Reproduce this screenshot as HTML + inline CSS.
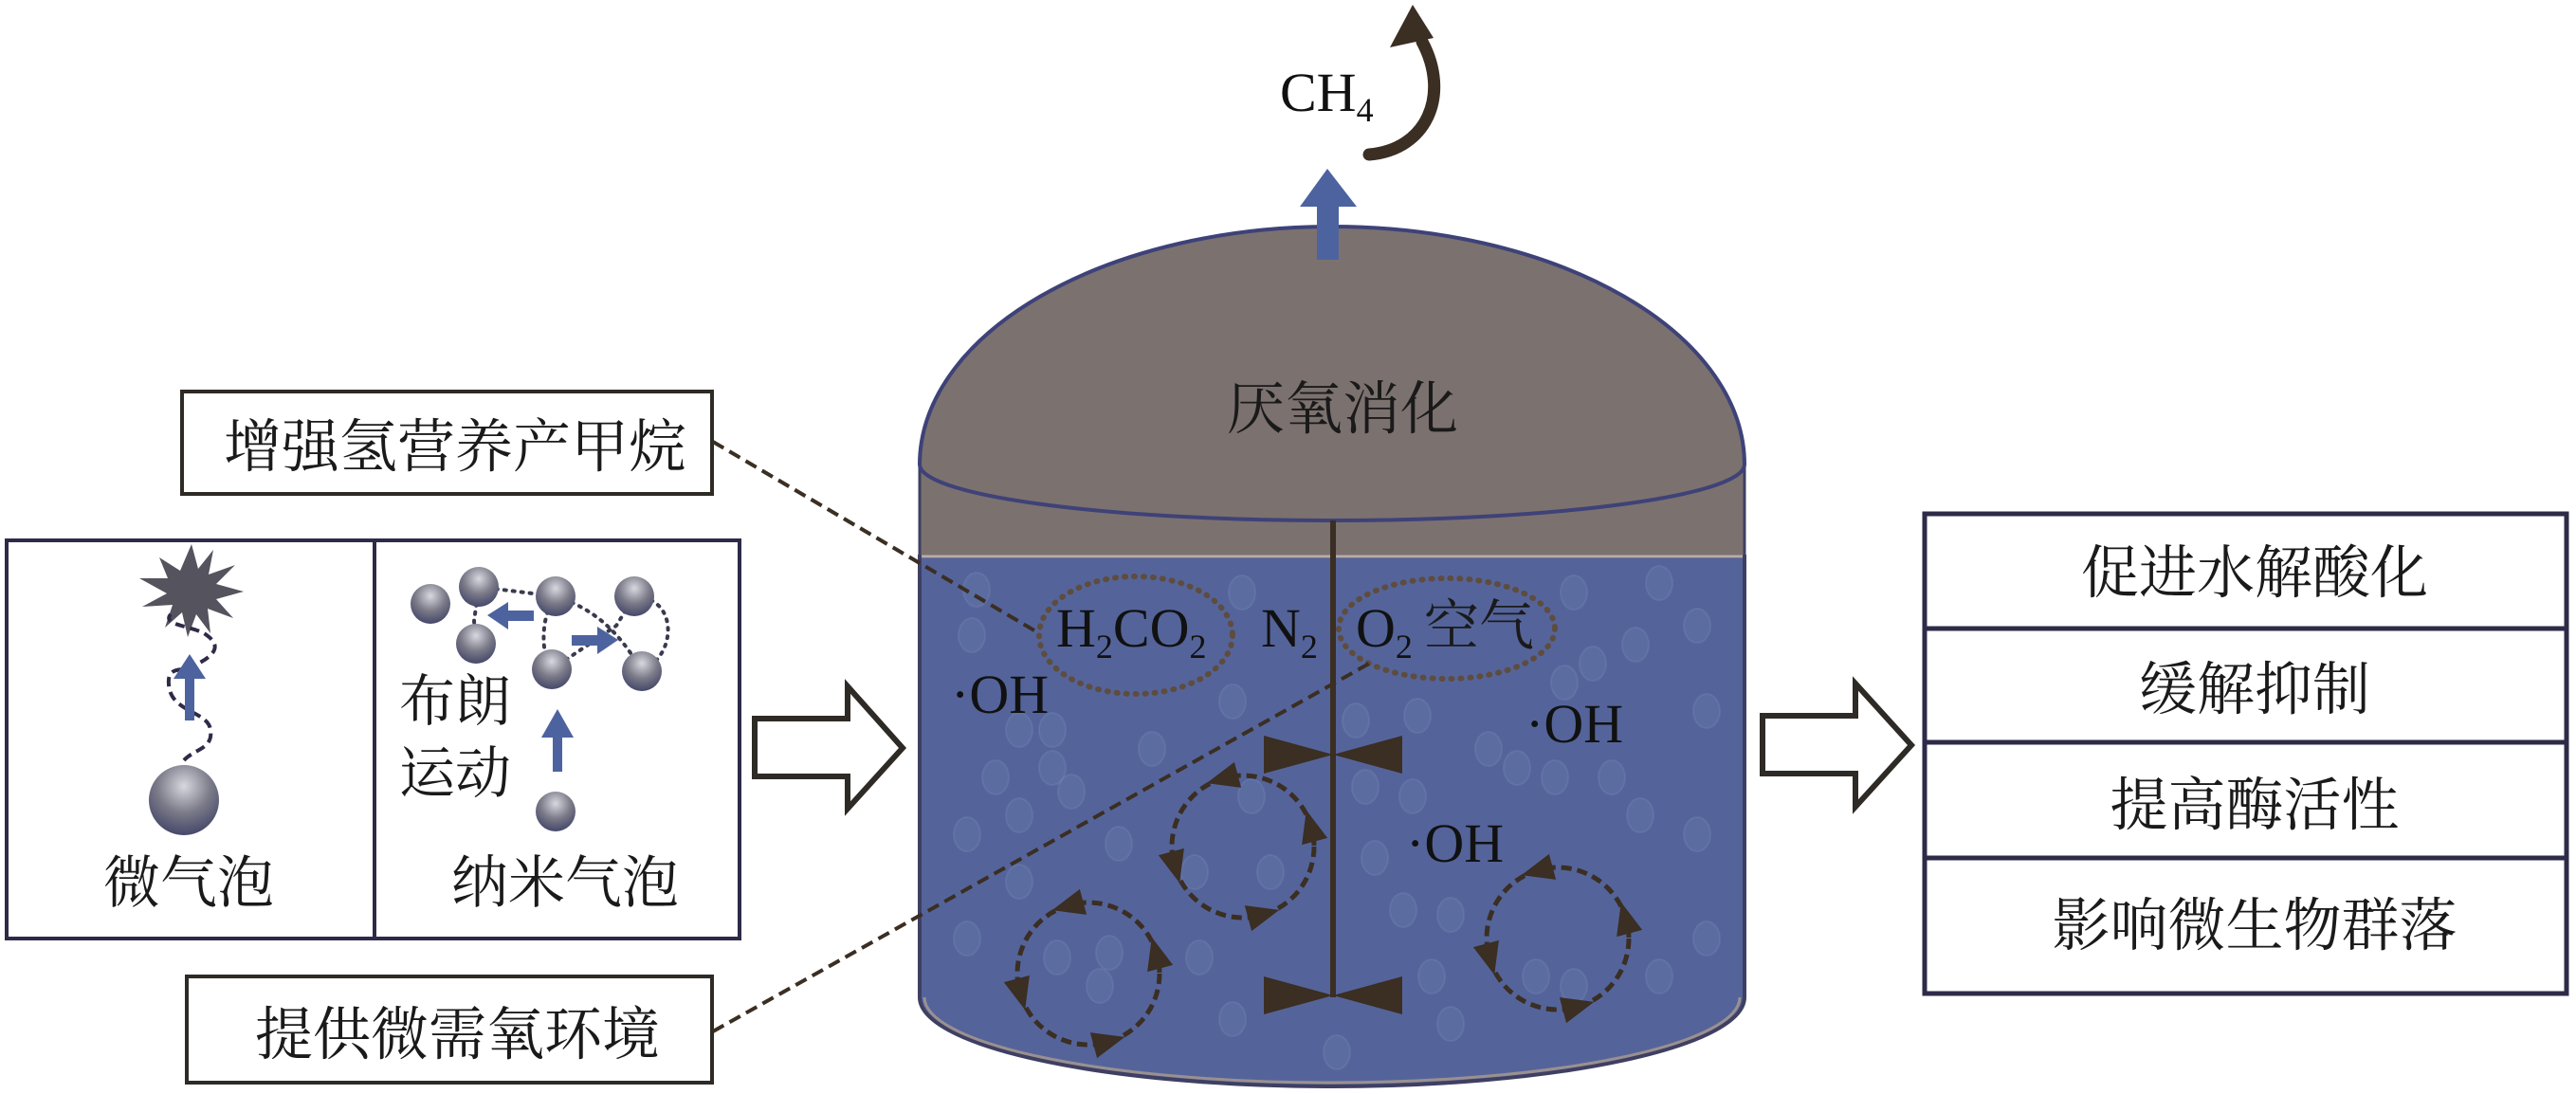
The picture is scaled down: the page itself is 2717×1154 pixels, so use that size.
<!DOCTYPE html>
<html><head><meta charset="utf-8">
<style>
html,body{margin:0;padding:0;background:#fff;}
svg{display:block;}
.cj{font-family:"Liberation Serif","Noto Serif CJK SC","Noto Sans CJK SC",serif;fill:#1a1a1a;}
.lt{font-family:"Liberation Serif",serif;fill:#111;}
</style></head>
<body>
<svg width="2717" height="1154" viewBox="0 0 2717 1154" xmlns="http://www.w3.org/2000/svg">
<defs>
<radialGradient id="bub" cx="0.5" cy="0.3" r="0.7">
<stop offset="0" stop-color="#d8d8e0"/>
<stop offset="0.55" stop-color="#7a7a88"/>
<stop offset="1" stop-color="#45486a"/>
</radialGradient>
<g id="loop">
<ellipse cx="0" cy="0" rx="75" ry="75" fill="none" stroke="#3b2e22" stroke-width="5" stroke-dasharray="11 6"/>
<polygon points="20,0 -14,-14 -14,14" fill="#3b2e22" transform="translate(-19,-72) rotate(165)"/>
<polygon points="20,0 -14,-14 -14,14" fill="#3b2e22" transform="translate(-72,19) rotate(75)"/>
<polygon points="20,0 -14,-14 -14,14" fill="#3b2e22" transform="translate(19,72) rotate(-15)"/>
<polygon points="20,0 -14,-14 -14,14" fill="#3b2e22" transform="translate(72,-19) rotate(-105)"/>
</g>
</defs>

<!-- Box 1 -->
<rect x="192" y="413" width="559" height="108" fill="#fff" stroke="#2e2a26" stroke-width="4"/>
<text class="cj" x="236" y="492" font-size="61">增强氢营养产甲烷</text>

<!-- Left panel -->
<rect x="7" y="570" width="773" height="420" fill="#fff" stroke="#2d2b48" stroke-width="4"/>
<line x1="395" y1="570" x2="395" y2="990" stroke="#2d2b48" stroke-width="4"/>
<polygon fill="#55535e" points="202,574 209,600 225,580 220,606 248,596 228,616 257,624 228,632 246,652 219,642 222,668 207,648 198,672 192,646 174,662 182,638 150,640 176,626 147,610 177,610 168,588 190,602"/>
<path d="M194,802 C205,790 225,790 222,770 C220,750 180,752 178,722 C176,700 195,710 205,702 C230,690 232,680 218,670 C205,660 170,660 180,648" fill="none" stroke="#2d2b48" stroke-width="4" stroke-dasharray="10 6"/>
<rect x="195" y="712" width="10" height="48" fill="#4d63a0"/>
<polygon points="200,690 183,716 217,716" fill="#4d63a0"/>
<circle cx="194" cy="844" r="37" fill="url(#bub)"/>
<text class="cj" x="109" y="952" font-size="60">微气泡</text>
<g fill="none" stroke="#3a3a4e" stroke-width="4" stroke-dasharray="2 7" stroke-linecap="round">
<path d="M505,619 L586,629"/>
<path d="M505,619 L500,655 L502,679"/>
<path d="M586,629 C570,650 570,690 582,706"/>
<path d="M586,629 C620,640 650,660 677,708"/>
<path d="M582,706 L650,660 L669,629"/>
<path d="M669,629 C715,630 715,690 677,708"/>
</g>
<circle cx="454" cy="637" r="21" fill="url(#bub)"/>
<circle cx="505" cy="619" r="21" fill="url(#bub)"/>
<circle cx="586" cy="629" r="21" fill="url(#bub)"/>
<circle cx="669" cy="629" r="21" fill="url(#bub)"/>
<circle cx="502" cy="679" r="21" fill="url(#bub)"/>
<circle cx="582" cy="706" r="21" fill="url(#bub)"/>
<circle cx="677" cy="708" r="21" fill="url(#bub)"/>
<circle cx="586" cy="856" r="21" fill="url(#bub)"/>
<polygon points="514,649 536,635 536,644 563,644 563,655 536,655 536,664" fill="#4d63a0"/>
<polygon points="652,675 630,661 630,670 603,670 603,681 630,681 630,690" fill="#4d63a0"/>
<rect x="583" y="775" width="10" height="39" fill="#4d63a0"/>
<polygon points="588,748 571,778 605,778" fill="#4d63a0"/>
<text class="cj" x="421" y="760" font-size="59">布朗</text>
<text class="cj" x="421" y="836" font-size="59">运动</text>
<text class="cj" x="476" y="952" font-size="60">纳米气泡</text>

<!-- Box 2 -->
<rect x="197" y="1030" width="554" height="112" fill="#fff" stroke="#2e2a26" stroke-width="4"/>
<text class="cj" x="269" y="1112" font-size="61">提供微需氧环境</text>

<polygon points="796,758 894,758 894,724 952,789 894,853 894,819 796,819" fill="#fff" stroke="#2e2a26" stroke-width="6"/>

<!-- Tank -->
<path d="M970,587 L1840,587 L1840,1052 A435,94 0 0 1 970,1052 Z" fill="#54649a" stroke="#3e3f62" stroke-width="4"/>
<path d="M975,1052 A430,90 0 0 0 1835,1052" fill="none" stroke="#9a9090" stroke-width="3"/>
<rect x="970" y="490" width="870" height="97" fill="#7b716f" stroke="#3e3f62" stroke-width="3"/>
<line x1="972" y1="587" x2="1838" y2="587" stroke="#b8aca8" stroke-width="3"/>
<g fill="#7a8bbd" fill-opacity="0.2" stroke="#8e9dca" stroke-opacity="0.2" stroke-width="2">
<ellipse cx="1030" cy="622" rx="14" ry="18"/><ellipse cx="1025" cy="670" rx="14" ry="18"/>
<ellipse cx="1075" cy="770" rx="14" ry="18"/><ellipse cx="1110" cy="770" rx="14" ry="18"/>
<ellipse cx="1050" cy="820" rx="14" ry="18"/><ellipse cx="1110" cy="810" rx="14" ry="18"/>
<ellipse cx="1130" cy="835" rx="14" ry="18"/><ellipse cx="1215" cy="790" rx="14" ry="18"/>
<ellipse cx="1075" cy="860" rx="14" ry="18"/><ellipse cx="1020" cy="880" rx="14" ry="18"/>
<ellipse cx="1180" cy="890" rx="14" ry="18"/><ellipse cx="1075" cy="930" rx="14" ry="18"/>
<ellipse cx="1260" cy="920" rx="14" ry="18"/><ellipse cx="1020" cy="990" rx="14" ry="18"/>
<ellipse cx="1115" cy="1010" rx="14" ry="18"/><ellipse cx="1170" cy="1005" rx="14" ry="18"/>
<ellipse cx="1160" cy="1040" rx="14" ry="18"/><ellipse cx="1265" cy="1010" rx="14" ry="18"/>
<ellipse cx="1300" cy="1075" rx="14" ry="18"/><ellipse cx="1410" cy="1110" rx="14" ry="18"/>
<ellipse cx="1320" cy="840" rx="14" ry="18"/><ellipse cx="1340" cy="920" rx="14" ry="18"/>
<ellipse cx="1310" cy="625" rx="14" ry="18"/><ellipse cx="1300" cy="740" rx="14" ry="18"/>
<ellipse cx="1430" cy="760" rx="14" ry="18"/><ellipse cx="1495" cy="755" rx="14" ry="18"/>
<ellipse cx="1440" cy="830" rx="14" ry="18"/><ellipse cx="1490" cy="840" rx="14" ry="18"/>
<ellipse cx="1450" cy="905" rx="14" ry="18"/><ellipse cx="1480" cy="960" rx="14" ry="18"/>
<ellipse cx="1530" cy="965" rx="14" ry="18"/><ellipse cx="1570" cy="790" rx="14" ry="18"/>
<ellipse cx="1600" cy="810" rx="14" ry="18"/><ellipse cx="1640" cy="820" rx="14" ry="18"/>
<ellipse cx="1700" cy="820" rx="14" ry="18"/><ellipse cx="1730" cy="860" rx="14" ry="18"/>
<ellipse cx="1650" cy="720" rx="14" ry="18"/><ellipse cx="1680" cy="700" rx="14" ry="18"/>
<ellipse cx="1725" cy="680" rx="14" ry="18"/><ellipse cx="1790" cy="660" rx="14" ry="18"/>
<ellipse cx="1750" cy="615" rx="14" ry="18"/><ellipse cx="1660" cy="625" rx="14" ry="18"/>
<ellipse cx="1800" cy="750" rx="14" ry="18"/><ellipse cx="1790" cy="880" rx="14" ry="18"/>
<ellipse cx="1800" cy="990" rx="14" ry="18"/><ellipse cx="1660" cy="1040" rx="14" ry="18"/>
<ellipse cx="1750" cy="1030" rx="14" ry="18"/><ellipse cx="1510" cy="1030" rx="14" ry="18"/>
<ellipse cx="1530" cy="1080" rx="14" ry="18"/><ellipse cx="1620" cy="1030" rx="14" ry="18"/>
</g>
<path d="M970,490 A435,251 0 0 1 1840,490 A435,59 0 0 1 970,490 Z" fill="#7b716f" stroke="#3e4278" stroke-width="4"/>
<text class="cj" x="1294" y="452" font-size="61">厌氧消化</text>
<rect x="1389" y="214" width="23" height="60" fill="#4d63a0"/>
<polygon points="1400,178 1371,218 1431,218" fill="#4d63a0"/>
<text class="lt" x="1350" y="117" font-size="58">CH<tspan font-size="36" dy="11">4</tspan></text>
<path d="M1444,163 C1505,158 1530,100 1500,44" fill="none" stroke="#3b2e22" stroke-width="13" stroke-linecap="round"/>
<polygon points="1490,5 1466,50 1512,40" fill="#3b2e22"/>

<line x1="1406" y1="549" x2="1406" y2="1052" stroke="#3b2e22" stroke-width="6"/>
<polygon points="1333,776 1333,816 1406,796" fill="#3b2e22"/>
<polygon points="1479,776 1479,816 1406,796" fill="#3b2e22"/>
<polygon points="1333,1030 1333,1070 1406,1050" fill="#3b2e22"/>
<polygon points="1479,1030 1479,1070 1406,1050" fill="#3b2e22"/>

<ellipse cx="1198" cy="670" rx="102" ry="62" fill="none" stroke="#5e4c3e" stroke-width="6" stroke-dasharray="1 9" stroke-linecap="round"/>
<ellipse cx="1526" cy="663" rx="114" ry="53" fill="none" stroke="#5e4c3e" stroke-width="6" stroke-dasharray="1 9" stroke-linecap="round"/>
<text class="lt" x="1114" y="682" font-size="58">H<tspan font-size="36" dy="12">2</tspan><tspan dy="-12">CO</tspan><tspan font-size="36" dy="12">2</tspan></text>
<text class="lt" x="1330" y="682" font-size="58">N<tspan font-size="36" dy="12">2</tspan></text>
<text class="lt" x="1430" y="682" font-size="58">O<tspan font-size="36" dy="12">2</tspan></text>
<text class="cj" x="1502" y="680" font-size="58">空气</text>
<text class="lt" x="1003" y="752" font-size="58">·OH</text>
<text class="lt" x="1609" y="783" font-size="58">·OH</text>
<text class="lt" x="1483" y="909" font-size="58">·OH</text>

<use href="#loop" transform="translate(1311,893)"/>
<use href="#loop" transform="translate(1148,1027)"/>
<use href="#loop" transform="translate(1643,990)"/>

<line x1="752" y1="466" x2="1096" y2="668" stroke="#3b2e22" stroke-width="4" stroke-dasharray="13 7"/>
<line x1="752" y1="1088" x2="1444" y2="700" stroke="#3b2e22" stroke-width="4" stroke-dasharray="13 7"/>

<polygon points="1859,755 1957,755 1957,721 2016,786 1957,851 1957,816 1859,816" fill="#fff" stroke="#2e2a26" stroke-width="6"/>

<rect x="2030" y="542" width="677" height="506" fill="#fff" stroke="#2d2b48" stroke-width="5"/>
<line x1="2030" y1="663" x2="2707" y2="663" stroke="#2d2b48" stroke-width="5"/>
<line x1="2030" y1="783" x2="2707" y2="783" stroke="#2d2b48" stroke-width="5"/>
<line x1="2030" y1="905" x2="2707" y2="905" stroke="#2d2b48" stroke-width="5"/>
<g class="cj" font-size="61" text-anchor="middle">
<text x="2378" y="625">促进水解酸化</text>
<text x="2378" y="748">缓解抑制</text>
<text x="2378" y="870">提高酶活性</text>
<text x="2378" y="997">影响微生物群落</text>
</g>
</svg>
</body></html>
